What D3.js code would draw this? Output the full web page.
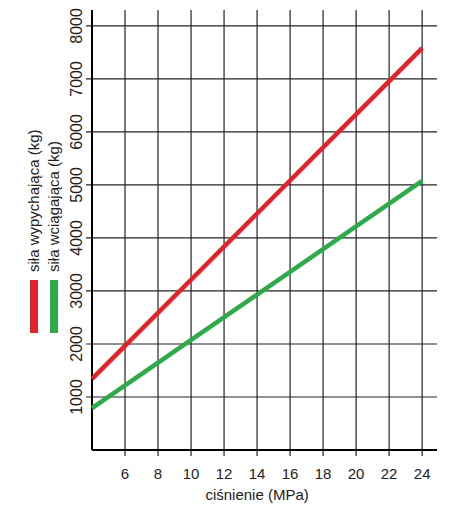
<!DOCTYPE html>
<html><head><meta charset="utf-8">
<script src="https://cdn.jsdelivr.net/npm/d3@7"></script>
<style>body{margin:0;background:#fff;font-family:"Liberation Sans",Arial,sans-serif}</style>
</head><body><div id="chart"></div>
<script>
const pressure = [4, 24];
const pushForce = [1340, 7580];
const pullForce = [790, 5075];
const xTicks = [6, 8, 10, 12, 14, 16, 18, 20, 22, 24];
const yTicks = [1000, 2000, 3000, 4000, 5000, 6000, 7000, 8000];
const seriesNames = ['siła wypychająca (kg)', 'siła wciągająca (kg)'];

const width = 464, height = 512;
const margin = {top: 10, left: 92, right: 27, bottom: 62};

const svg = d3.select('#chart').append('svg')
  .attr('width', width).attr('height', height);

const x = d3.scaleLinear().domain([4, 24.9]).range([margin.left, width - margin.right]);
const y = d3.scaleLinear().domain([0, 8300]).range([height - margin.bottom, margin.top]);

// grid
svg.append('g').selectAll('line').data(xTicks).enter().append('line')
  .attr('x1', d => x(d)).attr('x2', d => x(d))
  .attr('y1', y(8300)).attr('y2', y(0) + 6)
  .attr('stroke', '#222').attr('stroke-width', 1.2);
svg.append('g').selectAll('line').data(yTicks).enter().append('line')
  .attr('x1', x(4) - 6).attr('x2', x(24.9))
  .attr('y1', d => y(d)).attr('y2', d => y(d))
  .attr('stroke', '#222').attr('stroke-width', 1.2);

// axes lines
svg.append('line').attr('x1', x(4)).attr('x2', x(4)).attr('y1', y(8300)).attr('y2', y(0))
  .attr('stroke', '#000').attr('stroke-width', 2);
svg.append('line').attr('x1', x(4)).attr('x2', x(24.9)).attr('y1', y(0)).attr('y2', y(0))
  .attr('stroke', '#000').attr('stroke-width', 2);

// tick labels
svg.append('g').selectAll('text').data(xTicks).enter().append('text')
  .attr('x', d => x(d)).attr('y', y(0) + 29)
  .attr('text-anchor', 'middle').attr('font-size', 15).attr('fill', '#222')
  .text(d => d);
svg.append('g').selectAll('text').data(yTicks).enter().append('text')
  .attr('transform', d => 'translate(' + (x(4) - 10) + ',' + y(d) + ') rotate(-90)')
  .attr('text-anchor', 'middle').attr('font-size', 16).attr('fill', '#222')
  .text(d => d);

svg.append('text').attr('x', x(14)).attr('y', 500)
  .attr('text-anchor', 'middle').attr('font-size', 15).attr('fill', '#222')
  .text('ciśnienie (MPa)');

// lines
const line = d3.line().x(d => x(d[0])).y(d => y(d[1]));
const colors = ['#e3232b', '#2eaa4a'];
[pushForce, pullForce].forEach((vals, i) => {
  svg.append('path').datum(pressure.map((p, j) => [p, vals[j]]))
    .attr('d', line).attr('fill', 'none')
    .attr('stroke', colors[i]).attr('stroke-width', 4.5);
});

// legend
seriesNames.forEach((name, i) => {
  const cx = 34 + i * 20;
  svg.append('rect').attr('x', cx - 4).attr('y', 280).attr('width', 8).attr('height', 53)
    .attr('fill', colors[i]);
  svg.append('text')
    .attr('transform', 'translate(' + (cx + 5) + ',272) rotate(-90)')
    .attr('font-size', 15).attr('fill', '#222')
    .text(name);
});
</script></body></html>
